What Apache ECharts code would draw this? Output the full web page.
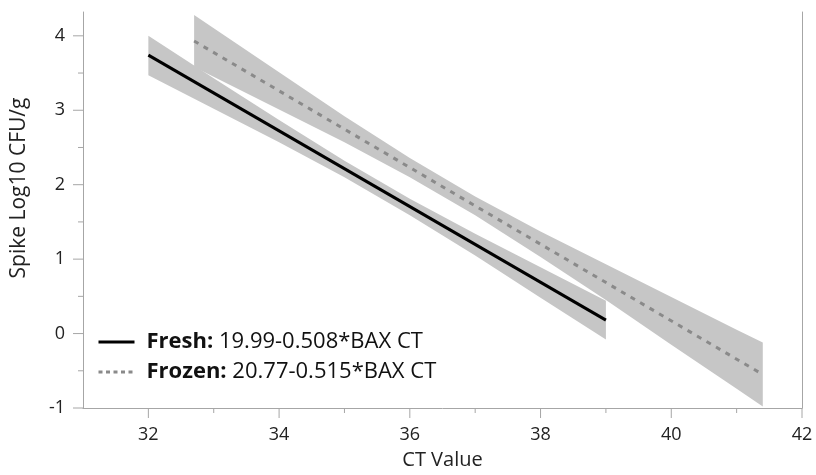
<!DOCTYPE html>
<html>
<head>
<meta charset="utf-8">
<script src="https://cdn.jsdelivr.net/npm/echarts@6/dist/echarts.min.js"></script>
<style>html,body{margin:0;padding:0;background:#fff}#c{width:816px;height:475px}</style>
</head>
<body>
<div id="c"></div>
<script>
// Fitted lines (endpoints)
var freshLineX = [32, 39];
var freshLineY = [3.74, 0.18];
var frozenLineX = [32.7, 41.4];
var frozenLineY = [3.93, -0.55];

// Confidence bands
var freshBandX = [32, 33, 34, 35, 36, 37, 38, 39];
var freshBandLow = [3.47, 3.02, 2.57, 2.10, 1.59, 1.05, 0.48, -0.08];
var freshBandHigh = [4.00, 3.43, 2.87, 2.32, 1.81, 1.34, 0.89, 0.44];

var frozenBandX = [32.7, 34, 35, 36, 37, 38, 39, 40, 41, 41.4];
var frozenBandLow = [3.58, 3.01, 2.57, 2.10, 1.59, 1.03, 0.45, -0.15, -0.74, -0.98];
var frozenBandHigh = [4.28, 3.51, 2.92, 2.36, 1.84, 1.37, 0.93, 0.49, 0.05, -0.12];

var legendNames = ['Fresh', 'Frozen'];
var legendEquations = ['19.99-0.508*BAX CT', '20.77-0.515*BAX CT'];

var xTicks = [32, 34, 36, 38, 40, 42];
var yTicks = [-1, 0, 1, 2, 3, 4];

function pairs(xs, ys) {
  return xs.map(function (x, i) { return [x, ys[i]]; });
}

function bandRenderer(xs, lo, hi) {
  return function (params, api) {
    var pts = [];
    for (var i = 0; i < xs.length; i++) pts.push(api.coord([xs[i], hi[i]]));
    for (var j = xs.length - 1; j >= 0; j--) pts.push(api.coord([xs[j], lo[j]]));
    return {
      type: 'polygon',
      shape: { points: pts },
      style: { fill: '#c6c6c6', stroke: null }
    };
  };
}

var FONT = 'Open Sans';
var axisColor = '#a6a6a6';
var textColor = '#222';

var chart = echarts.init(document.getElementById('c'), null, { renderer: 'canvas' });
chart.setOption({
  animation: false,
  backgroundColor: '#fff',
  grid: { left: 83, right: 14, top: 12, bottom: 67, containLabel: false },
  legend: {
    data: [
      { name: legendNames[0], itemStyle: { opacity: 0 }, lineStyle: { color: '#000', width: 3, type: 'solid' } },
      { name: legendNames[1], itemStyle: { opacity: 0 }, lineStyle: { color: '#8a8a8a', width: 3, type: [4, 3.5] } }
    ],
    orient: 'vertical',
    left: 97,
    top: 331,
    padding: 0,
    itemGap: 8,
    itemWidth: 36,
    itemHeight: 20,
    selectedMode: false,
    formatter: function (name) {
      var i = legendNames.indexOf(name);
      return '{b|' + name + ':} {n|' + legendEquations[i] + '}';
    },
    textStyle: {
      fontFamily: FONT,
      fontSize: 22,
      lineHeight: 22,
      color: '#111',
      padding: [0, 0, 0, 7],
      rich: {
        b: { fontFamily: FONT, fontSize: 22, lineHeight: 22, fontWeight: 'bold', color: '#111' },
        n: { fontFamily: FONT, fontSize: 22, lineHeight: 22, color: '#111' }
      }
    }
  },
  xAxis: {
    type: 'value',
    min: 31,
    max: 42,
    interval: 1,
    name: 'CT Value',
    nameLocation: 'middle',
    nameGap: 42,
    nameTextStyle: { fontFamily: FONT, fontSize: 20, color: textColor },
    axisLine: { show: true, onZero: false, lineStyle: { color: axisColor, width: 1 } },
    axisTick: { show: false },
    axisLabel: {
      fontFamily: FONT, fontSize: 18, color: textColor, margin: 18,
      formatter: function (v) { return xTicks.indexOf(v) >= 0 ? String(v) : ''; }
    },
    splitLine: { show: false }
  },
  yAxis: [{
    type: 'value',
    min: -1,
    max: 4.32,
    interval: 0.5,
    name: 'Spike Log10 CFU/g',
    nameLocation: 'middle',
    nameGap: 53,
    nameTextStyle: { fontFamily: FONT, fontSize: 21, color: textColor, padding: [0, 0, 0, 44] },
    axisLine: { show: true, onZero: false, lineStyle: { color: axisColor, width: 1 } },
    axisTick: { show: false },
    axisLabel: {
      fontFamily: FONT, fontSize: 18, color: textColor, margin: 18,
      formatter: function (v) { return yTicks.indexOf(v) >= 0 ? String(v) : ''; }
    },
    splitLine: { show: false }
  }, {
    type: 'value',
    position: 'right',
    min: -1,
    max: 4.32,
    interval: 1,
    axisLine: { show: true, onZero: false, lineStyle: { color: axisColor, width: 1 } },
    axisTick: { show: false },
    axisLabel: { show: false },
    splitLine: { show: false }
  }],
  series: [
    {
      name: 'Fresh band', type: 'custom', z: 1, silent: true,
      renderItem: bandRenderer(freshBandX, freshBandLow, freshBandHigh),
      data: [[freshBandX[0], freshBandLow[0]]]
    },
    {
      name: 'Frozen band', type: 'custom', z: 1, silent: true,
      renderItem: bandRenderer(frozenBandX, frozenBandLow, frozenBandHigh),
      data: [[frozenBandX[0], frozenBandLow[0]]]
    },
    {
      name: 'Fresh', type: 'line', z: 5, symbol: 'none',
      data: pairs(freshLineX, freshLineY),
      lineStyle: { color: '#000', width: 3 },
      itemStyle: { color: '#000' }
    },
    {
      name: 'Frozen', type: 'line', z: 5, symbol: 'none',
      data: pairs(frozenLineX, frozenLineY),
      lineStyle: { color: '#8a8a8a', width: 3, type: [5, 6] },
      itemStyle: { color: '#8a8a8a' }
    },
    // tick marks placed through the axis scale
    {
      name: 'ticks', type: 'custom', z: 3, silent: true, clip: false,
      renderItem: function (params, api) {
        var children = [];
        for (var x = 32; x <= 42; x++) {
          var p = api.coord([x, -1]);
          var len = (x % 2 === 0) ? 10 : 5;
          children.push({ type: 'line', shape: { x1: p[0], y1: p[1], x2: p[0], y2: p[1] + len }, style: { stroke: axisColor, lineWidth: 1 } });
        }
        for (var y = -1; y <= 4; y += 0.5) {
          var q = api.coord([31, y]);
          var l2 = (Math.abs(y - Math.round(y)) < 1e-9) ? 10 : 5;
          children.push({ type: 'line', shape: { x1: q[0] - l2, y1: q[1], x2: q[0], y2: q[1] }, style: { stroke: axisColor, lineWidth: 1 } });
        }
        return { type: 'group', children: children };
      },
      data: [[31, -1]]
    }
  ]
});
</script>
</body>
</html>
